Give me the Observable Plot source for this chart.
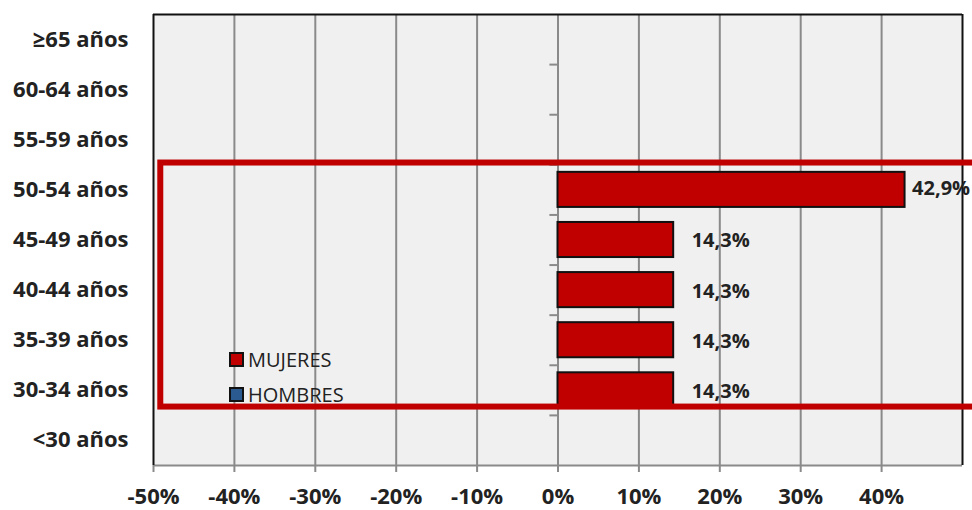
<!DOCTYPE html>
<html>
<head>
<meta charset="utf-8">
<script src="https://cdn.jsdelivr.net/npm/d3@7"></script>
<script src="https://cdn.jsdelivr.net/npm/@observablehq/plot@0.6"></script>
<style>
  html, body { margin: 0; padding: 0; background: white; }
  #wrap { position: relative; width: 972px; height: 510px; overflow: hidden; }
  #legend { position: absolute; left: 229px; top: 342px; font-family: "Open Sans", sans-serif; font-size: 20px; color: #222; }
  #legend .row { display: flex; align-items: center; height: 35px; }
  #legend .sw { width: 11px; height: 11px; border: 2px solid #111; margin-right: 4px; }
</style>
</head>
<body>
<div id="wrap"><div id="chart"></div><div id="legend"></div></div>
<script>
const categories = ["≥65 años","60-64 años","55-59 años","50-54 años","45-49 años","40-44 años","35-39 años","30-34 años","<30 años"];
const mujeres = [0, 0, 0, 0.429, 0.143, 0.143, 0.143, 0.143, 0];
const hombres = [0, 0, 0, 0, 0, 0, 0, 0, 0];
const valueLabels = ["", "", "", "42,9%", "14,3%", "14,3%", "14,3%", "14,3%", ""];
const xTicks = [-0.5, -0.4, -0.3, -0.2, -0.1, 0, 0.1, 0.2, 0.3, 0.4];
const gridTicks = [-0.4, -0.3, -0.2, -0.1, 0, 0.1, 0.2, 0.3, 0.4];
const seriesNames = ["MUJERES", "HOMBRES"];
const seriesColors = ["#C00000", "#2A5A8F"];
const highlight = [{x1: -0.491, x2: 0.54, y1: 2.464, y2: 7.334}];

const rows = categories.map((c, i) => ({cat: c, i, m: mujeres[i], h: hombres[i], label: valueLabels[i]}));
const bars = rows.filter(d => d.m > 0);
const maxM = d3.max(mujeres);
const boundaries = d3.range(0.5, categories.length - 1, 1);
const font = "'Open Sans', sans-serif";

const chart = Plot.plot({
  width: 972,
  height: 510,
  marginLeft: 153,
  marginRight: 10,
  marginTop: 14,
  marginBottom: 45,
  style: {fontFamily: font, overflow: "hidden", background: "white"},
  x: {domain: [-0.5, 0.5]},
  y: {domain: [-0.5, categories.length - 0.5], reverse: true},
  marks: [
    Plot.frame({fill: "#f0f0f0", stroke: null}),
    Plot.gridX(gridTicks, {stroke: "#8a8a8a", strokeWidth: 2, strokeOpacity: 1}),
    Plot.ruleY(boundaries, {x1: -0.01, x2: 0, stroke: "#8a8a8a", strokeWidth: 2}),
    Plot.ruleY([categories.length - 0.5], {stroke: "#8a8a8a", strokeWidth: 2}),
    Plot.ruleY([-0.5], {stroke: "#111", strokeWidth: 2}),
    Plot.ruleX([-0.5, 0.5], {stroke: "#111", strokeWidth: 2}),
    Plot.rect(bars, {x1: 0, x2: "m", y1: d => d.i - 0.35, y2: d => d.i + 0.35, fill: seriesColors[0], stroke: "#111", strokeWidth: 2}),
    Plot.rect(highlight, {x1: "x1", x2: "x2", y1: "y1", y2: "y2", fill: "none", stroke: "#C00000", strokeWidth: 6}),
    Plot.text(bars.filter(d => d.m === maxM), {x: "m", y: "i", text: "label", textAnchor: "start", dx: 7, dy: -1, fontSize: 20, fontWeight: "bold", fill: "#222"}),
    Plot.text(bars.filter(d => d.m !== maxM), {x: "m", y: "i", text: "label", textAnchor: "start", dx: 18, dy: 1, fontSize: 20, fontWeight: "bold", fill: "#222"}),
    Plot.axisY({ticks: d3.range(categories.length), tickFormat: i => categories[i], tickSize: 0, tickPadding: 25, fontSize: 22, fontWeight: "bold", fill: "#222"}),
    Plot.axisX({ticks: xTicks, tickFormat: d => Math.round(d * 100) + "%", tickSize: 7, tickPadding: 16, stroke: "#8a8a8a", strokeWidth: 2, fontSize: 22, fontWeight: "bold", fill: "#222"})
  ]
});
document.getElementById("chart").appendChild(chart);

const legend = document.getElementById("legend");
seriesNames.forEach((name, k) => {
  const row = document.createElement("div");
  row.className = "row";
  const sw = document.createElement("div");
  sw.className = "sw";
  sw.style.background = seriesColors[k];
  const t = document.createElement("span");
  t.textContent = name;
  row.appendChild(sw);
  row.appendChild(t);
  legend.appendChild(row);
});
</script>
</body>
</html>
